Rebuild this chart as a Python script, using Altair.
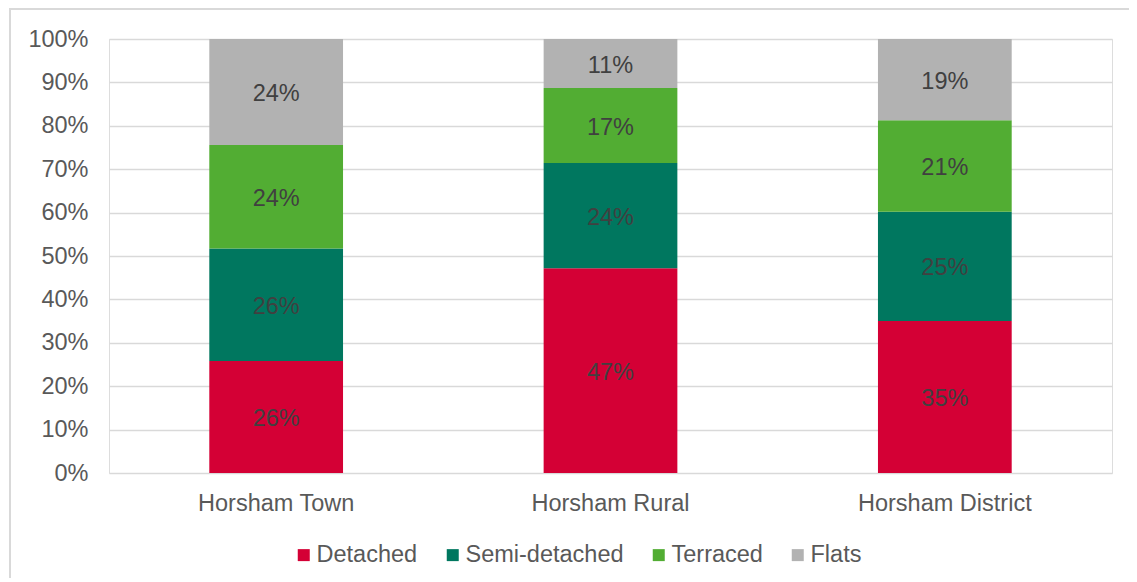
import altair as alt
import pandas as pd

areas = ["Horsham Town", "Horsham Rural", "Horsham District"]
types = ["Detached", "Semi-detached", "Terraced", "Flats"]
colors = ["#D40035", "#00775F", "#52AD33", "#B2B2B2"]

detached = [25.8, 47.2, 35.0]
semi_detached = [25.9, 24.2, 25.2]
terraced = [23.9, 17.3, 21.1]
flats = [24.4, 11.3, 18.7]

series = [detached, semi_detached, terraced, flats]
rows = []
for ti, (t, vals) in enumerate(zip(types, series)):
    for a, v in zip(areas, vals):
        rows.append({"area": a, "type": t, "order": ti, "value": v / 100.0})
df = pd.DataFrame(rows)

FONT = "Liberation Sans"

x = alt.X("area:N", sort=areas, title=None,
          scale=alt.Scale(paddingInner=0.6, paddingOuter=0.3),
          axis=alt.Axis(labelAngle=0, labelFontSize=23.5, labelColor="#595959",
                        labelFont=FONT, ticks=False, tickSize=0, domain=False,
                        labelPadding=18, grid=False))
y = alt.Y("sum(value):Q", stack="zero", title=None,
          scale=alt.Scale(domain=[0, 1], nice=False),
          axis=alt.Axis(format=".0%", values=[i / 10 for i in range(11)],
                        labelFontSize=23.5, labelColor="#595959", labelFont=FONT,
                        ticks=False, tickSize=0, domain=False, labelPadding=21,
                        gridColor="#D9D9D9", gridWidth=1.5))

color = alt.Color("type:N", sort=types,
                  scale=alt.Scale(domain=types, range=colors),
                  legend=alt.Legend(title=None, orient="none", direction="horizontal",
                                    legendX=183, legendY=504, padding=0,
                                    symbolType="square", symbolSize=144,
                                    symbolStrokeWidth=0, labelFontSize=23.5,
                                    labelFont=FONT, labelColor="#595959",
                                    labelOffset=1, columnPadding=23))

bars = alt.Chart(df).mark_bar(stroke=None).encode(
    x=x, y=y, color=color, order=alt.Order("order:Q", sort="ascending"))

labels = alt.Chart(df).mark_text(font=FONT, fontSize=23.5, color="#404040",
                                 baseline="middle", dy=2).encode(
    x=alt.X("area:N", sort=areas),
    y=alt.Y("mid:Q"),
    text=alt.Text("value:Q", format=".0%"),
).transform_window(
    cum="sum(value)", sort=[alt.SortField("order")], groupby=["area"],
    frame=[None, 0]
).transform_calculate(mid="datum.cum - datum.value / 2")

border = alt.Chart(pd.DataFrame({"k": [0]})).mark_rect(
    fill=None, stroke="#D9D9D9", strokeWidth=2, clip=False).encode(
    x=alt.value(-99), x2=alt.value(1040), y=alt.value(-30), y2=alt.value(600))

chart = alt.layer(border, bars, labels).properties(
    width=1003, height=434,
    autosize=alt.AutoSizeParams(type="none"),
    padding={"left": 101, "top": 31, "right": 17, "bottom": 105},
).configure_view(stroke=None).configure(font=FONT)

chart.save("out.html", embed_options={"renderer": "svg", "actions": False})
